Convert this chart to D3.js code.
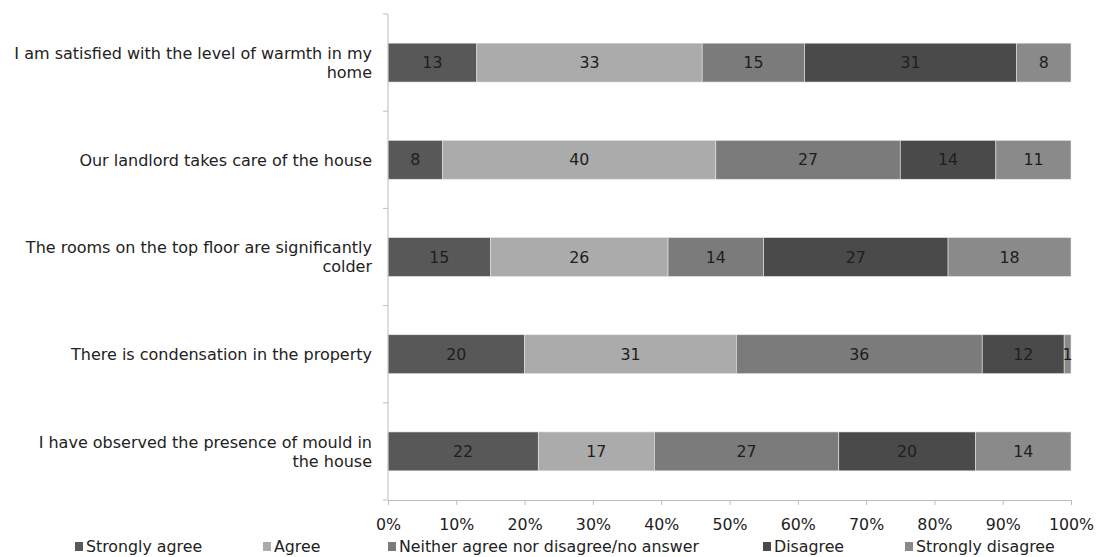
<!DOCTYPE html>
<html><head><meta charset="utf-8">
<script src="https://cdn.jsdelivr.net/npm/d3@7"></script>
<style>body{margin:0;background:#fff}svg{display:block}</style>
</head><body>
<svg id="c" width="1097" height="557"></svg>
<script>
const categories = [
  ["I am satisfied with the level of warmth in my", "home"],
  ["Our landlord takes care of the house"],
  ["The rooms on the top floor are significantly", "colder"],
  ["There is condensation in the property"],
  ["I have observed the presence of mould in", "the house"]
];
const seriesNames = ["Strongly agree", "Agree", "Neither agree nor disagree/no answer", "Disagree", "Strongly disagree"];
const stronglyAgree = [13, 8, 15, 20, 22];
const agree = [33, 40, 26, 31, 17];
const neither = [15, 27, 14, 36, 27];
const disagree = [31, 14, 27, 12, 20];
const stronglyDisagree = [8, 11, 18, 1, 14];
const xTicks = [0, 10, 20, 30, 40, 50, 60, 70, 80, 90, 100];
const colors = ["#585858", "#ababab", "#7b7b7b", "#4a4a4a", "#8a8a8a"];

(function () {
const series = [stronglyAgree, agree, neither, disagree, stronglyDisagree];
const rows = categories.map((c, i) => {
  const o = {i};
  seriesNames.forEach((s, k) => o[s] = series[k][i]);
  return o;
});
const stacked = d3.stack().keys(seriesNames)(rows);

const svg = d3.select("#c");
const mLeft = 388, mRight = 1071, mTop = 14, mBottom = 500;
const x = d3.scaleLinear().domain([0, 100]).range([mLeft, mRight]);
const y = d3.scaleBand().domain(d3.range(categories.length)).range([mTop, mBottom]).paddingInner(0.6).paddingOuter(0.3);
const yb = d3.scaleBand().domain(d3.range(categories.length)).range([mTop, mBottom]);
const font = "DejaVu Sans, Verdana, sans-serif";
const fs = 15.8;

const g = svg.append("g");
stacked.forEach((s, k) => {
  g.selectAll(null).data(s).enter().append("rect")
    .attr("x", d => x(d[0])).attr("width", d => x(d[1]) - x(d[0]))
    .attr("y", d => y(d.data.i)).attr("height", y.bandwidth())
    .attr("fill", colors[k]).attr("stroke", "#e6e6e6").attr("stroke-width", 0.6);
  g.selectAll(null).data(s).enter().append("text")
    .attr("x", d => (x(d[0]) + x(d[1])) / 2)
    .attr("y", d => y(d.data.i) + y.bandwidth() / 2)
    .attr("dy", "0.36em").attr("text-anchor", "middle")
    .attr("font-family", font).attr("font-size", fs).attr("fill", "#1e1e1e")
    .text(d => d[1] - d[0]);
});

const axisColor = "#bdbdbd";
svg.append("line").attr("x1", mLeft).attr("x2", mLeft).attr("y1", mTop).attr("y2", mBottom).attr("stroke", axisColor);
d3.range(categories.length + 1).forEach(i => {
  const yy = i < categories.length ? yb(i) : mBottom;
  svg.append("line").attr("x1", mLeft - 5).attr("x2", mLeft).attr("y1", yy).attr("y2", yy).attr("stroke", axisColor);
});
categories.forEach((lines, i) => {
  const cy = y(i) + y.bandwidth() / 2;
  const lh = 19;
  const t = svg.append("text").attr("text-anchor", "end").attr("font-family", font)
    .attr("font-size", 16).attr("fill", "#222");
  lines.forEach((l, j) => {
    t.append("tspan").attr("x", 372).attr("y", cy + (j - (lines.length - 1) / 2) * lh).attr("dy", "0.36em").text(l);
  });
});

const xa = svg.append("g").attr("transform", `translate(0,${mBottom})`)
  .call(d3.axisBottom(x).tickValues(xTicks).tickSize(5).tickSizeOuter(0).tickFormat(d => d + "%"));
xa.select(".domain").attr("stroke", axisColor);
xa.selectAll(".tick line").attr("stroke", axisColor);
xa.selectAll(".tick text").attr("font-family", font).attr("font-size", fs).attr("fill", "#222")
  .attr("y", 30).attr("dy", 0);

const legendX = [75, 263, 388, 763, 905];
seriesNames.forEach((s, k) => {
  const lg = svg.append("g").attr("transform", `translate(${legendX[k]},552)`);
  lg.append("rect").attr("x", 0).attr("y", -10).attr("width", 8).attr("height", 9).attr("fill", colors[k]);
  lg.append("text").attr("x", 11).attr("y", 0).attr("font-family", font)
    .attr("font-size", fs).attr("fill", "#222").text(s);
});
})();
</script>
</body></html>
